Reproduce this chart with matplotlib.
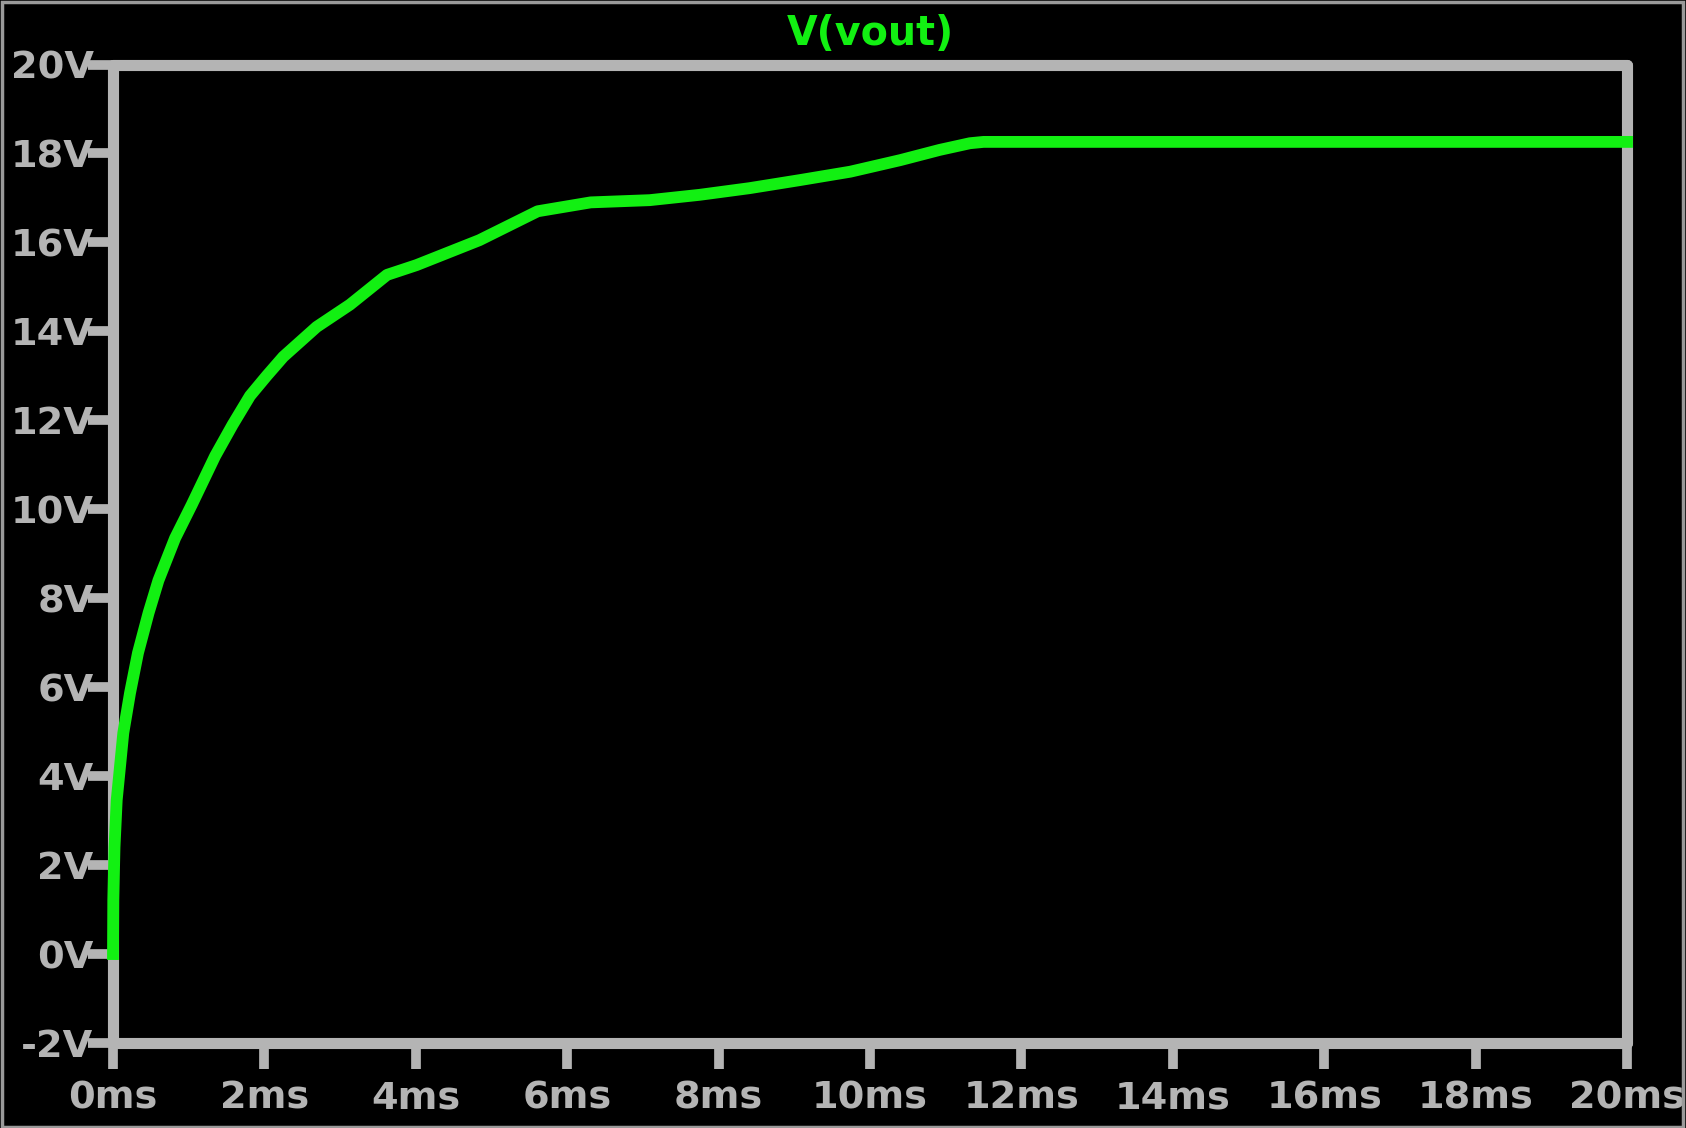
#!/usr/bin/env python3

"""
Transient plot of V(vout) in the style of an LTspice waveform window.
"""

import matplotlib
matplotlib.use("Agg")
import matplotlib.pyplot as plt
from matplotlib.patches import Rectangle

# time in ms, voltage in V
time_ms = [0, 0.004, 0.02, 0.049, 0.136, 0.225, 0.33, 0.47, 0.60, 0.82, 1.04,
           1.35, 1.58, 1.81, 2.03, 2.25, 2.69, 3.13, 3.62, 4.01, 4.41, 4.84,
           5.61, 6.31, 7.09, 7.75, 8.41, 9.07, 9.74, 10.40, 10.92, 11.32,
           11.5, 20]
vout = [0, 1.22, 2.4, 3.46, 4.97, 5.87, 6.77, 7.67, 8.4, 9.35, 10.1,
        11.2, 11.9, 12.55, 13.0, 13.43, 14.1, 14.6, 15.27, 15.49, 15.76, 16.05,
        16.7, 16.9, 16.95, 17.07, 17.22, 17.4, 17.59, 17.85, 18.08, 18.23,
        18.26, 18.26]

x_ticks = list(range(0, 21, 2))
x_labels = [f"{t}ms" for t in x_ticks]
y_ticks = list(range(-2, 21, 2))
y_labels = [f"{v}V" for v in y_ticks]

GRAY = "#b4b4b4"
GREEN = "#12f012"


def main():
    fig = plt.figure(figsize=(16.86, 11.28), dpi=100, facecolor="black")
    ax = fig.add_axes([113 / 1686, 85 / 1128, 1514 / 1686, 978.5 / 1128])
    ax.set_facecolor("black")

    ax.plot(time_ms, vout, color=GREEN, lw=8.5, clip_on=False, zorder=4,
            solid_joinstyle="round")

    ax.set_xlim(0, 20)
    ax.set_ylim(-2, 20)
    ax.set_xticks(x_ticks, x_labels)
    ax.set_yticks(y_ticks, y_labels)

    for side in ["left", "right", "top", "bottom"]:
        ax.spines[side].set_color(GRAY)
        ax.spines[side].set_linewidth(8)
        ax.spines[side].set_capstyle("round")

    ax.tick_params(axis="y", direction="out", length=18, width=7, color=GRAY,
                   labelcolor=GRAY, labelsize=27.5, pad=-4)
    ax.tick_params(axis="x", direction="out", length=19, width=7, color=GRAY,
                   labelcolor=GRAY, labelsize=27.5, pad=8)
    for lbl in ax.get_xticklabels() + ax.get_yticklabels():
        lbl.set_fontweight("bold")
        lbl.set_family("DejaVu Sans")

    ax.set_title("V(vout)", color=GREEN, fontsize=28.5, fontweight="bold", pad=14)

    # thin screenshot border round the window
    fig.patches.append(Rectangle((0.001, 0.001), 0.997, 0.997,
                                 transform=fig.transFigure, fill=False,
                                 edgecolor="#9a9a9a", lw=2.5))

    fig.savefig("out.png", dpi=100, facecolor="black")
    plt.close(fig)


if __name__ == "__main__":
    main()
